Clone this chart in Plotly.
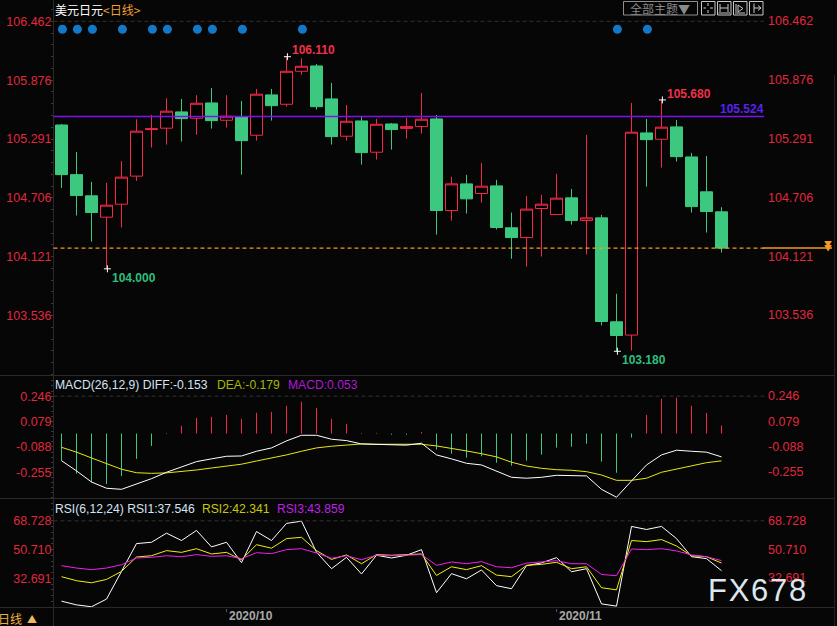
import plotly.graph_objects as go

W, H = 837, 626
# ---------------- data ----------------
opens = [105.431,104.937,104.726,104.514,104.643,104.922,105.385,105.399,105.561,105.498,105.650,105.478,105.514,105.329,105.730,105.637,105.965,106.018,105.690,105.319,105.471,105.160,105.441,105.397,105.415,105.491,104.580,104.845,104.749,104.825,104.408,104.311,104.600,104.540,104.706,104.480,104.507,103.473,103.341,105.352,105.289,105.412,105.113,104.766,104.567]
closes = [104.937,104.729,104.560,104.633,104.912,105.369,105.393,105.568,105.494,105.647,105.474,105.518,105.275,105.737,105.623,105.965,106.015,105.613,105.315,105.468,105.156,105.438,105.385,105.414,105.488,104.580,104.845,104.696,104.822,104.411,104.311,104.594,104.643,104.703,104.480,104.507,103.476,103.337,105.359,105.285,105.409,105.116,104.619,104.570,104.206]
highs = [105.441,105.163,104.865,104.855,105.071,105.488,105.531,105.697,105.690,105.727,105.799,105.727,105.670,105.789,105.789,106.110,106.094,106.038,105.849,105.630,105.514,105.491,105.451,105.501,105.750,105.531,104.915,104.935,105.054,104.885,104.560,104.726,104.736,104.944,104.795,105.332,104.537,103.752,105.650,105.491,105.680,105.481,105.153,105.123,104.613]
lows = [104.805,104.530,104.271,104.000,104.411,104.875,105.206,105.236,105.266,105.335,105.395,105.405,104.937,105.275,105.474,105.613,105.931,105.584,105.236,105.275,105.037,105.087,105.186,105.295,105.345,104.341,104.480,104.550,104.659,104.391,104.100,104.023,104.122,104.540,104.440,104.142,103.437,103.180,103.188,104.818,105.007,105.067,104.560,104.361,104.162]

macd_hist = [-.178,-.263,-.320,-.331,-.278,-.166,-.081,.005,.051,.103,.110,.123,.097,.136,.143,.182,.209,.169,.097,.064,.005,.005,-.007,-.007,.011,-.105,-.132,-.158,-.149,-.191,-.211,-.178,-.138,-.092,-.086,-.066,-.184,-.257,-.026,.123,.228,.235,.182,.136,.053]
diff = [-.178,-.245,-.318,-.359,-.366,-.333,-.296,-.254,-.217,-.184,-.166,-.149,-.147,-.116,-.094,-.048,-.011,-.011,-.037,-.046,-.068,-.070,-.076,-.076,-.063,-.140,-.166,-.195,-.206,-.245,-.287,-.293,-.287,-.274,-.276,-.278,-.366,-.418,-.311,-.206,-.140,-.109,-.116,-.122,-.153]
dea = [-.090,-.122,-.160,-.199,-.234,-.257,-.261,-.258,-.250,-.239,-.226,-.213,-.201,-.180,-.162,-.140,-.116,-.094,-.083,-.076,-.068,-.070,-.070,-.070,-.070,-.081,-.096,-.114,-.132,-.153,-.188,-.213,-.228,-.237,-.241,-.250,-.272,-.307,-.307,-.293,-.254,-.234,-.213,-.191,-.179]

rsi1 = [18.5,16.2,15.0,19.8,37.1,54.5,55.3,61.0,56.4,62.7,52.4,55.3,42.6,62.0,56.4,67.1,68.5,49.1,38.8,45.9,35.5,47.2,45.5,47.2,50.7,23.8,35.7,32.5,38.0,28.2,26.3,40.7,42.4,45.7,36.9,38.8,16.8,15.4,65.2,63.3,65.2,57.6,46.3,45.1,37.546]
rsi2 = [33.8,31.3,30.0,32.1,37.1,46.1,46.9,50.1,49.0,51.3,48.0,49.0,44.4,53.8,51.6,57.6,58.4,50.1,44.6,47.4,41.9,47.6,47.2,47.6,48.0,34.6,40.0,38.2,40.7,34.8,33.8,40.9,41.5,42.8,38.8,40.0,26.9,25.6,56.4,55.7,57.0,53.0,46.9,46.3,42.341]
rsi3 = [40.7,39.2,38.2,39.2,41.3,45.5,45.9,46.9,46.3,47.6,46.5,46.9,45.1,48.8,48.2,50.7,51.3,48.6,45.3,46.9,44.4,47.2,46.9,47.2,47.6,40.9,43.0,41.9,43.2,40.0,39.4,42.3,43.2,43.8,41.9,41.9,35.2,34.4,51.1,50.7,51.3,49.9,47.4,46.3,43.859]

news_dots = [0,1,2,4,6,7,9,10,12,16,37,39]
NEWS_LEVEL = 106.383
price_ticks = [106.462,105.876,105.291,104.706,104.121,103.536]
macd_ticks = [0.246,0.079,-0.088,-0.255]
rsi_ticks = [68.728,50.710,32.691]
LAST_PRICE = 104.206
PURPLE_LEVEL = 105.516
extremes = [(15,106.110,'h'),(40,105.680,'h'),(3,104.000,'l'),(37,103.180,'l')]
date_ticks = [11,33]
date_labels = ['2020/10','2020/11']

# ---------------- style ----------------
BG = '#060606'; RED = '#F5284A'; GREEN = '#3CC97F'; LBL = '#E0283F'
FONT = 'Liberation Sans'; CJK = 'Noto Sans CJK SC'
GRID = '#2A2A2A'
TS = 12.5
LEG = 12.15
x0, x1 = 53.5, 764
xr = [(x0-61.5)/15, (x1-61.5)/15]
Y1, Y2, Y3 = 375.5, 498.5, 607.5
MARK_NUDGE = 0.06
px = lambda p: p/W
py = lambda p: 1-p/H
ids = list(range(len(opens)))

fig = go.Figure()
fig.add_trace(go.Candlestick(x=ids, open=opens, high=highs, low=lows, close=closes, xaxis='x', yaxis='y',
    whiskerwidth=0, showlegend=False,
    increasing=dict(line=dict(color=RED, width=1), fillcolor='#000000'),
    decreasing=dict(line=dict(color=GREEN, width=1), fillcolor=GREEN)))
fig.add_trace(go.Scatter(x=[d+MARK_NUDGE for d in news_dots], y=[NEWS_LEVEL]*len(news_dots), mode='markers', xaxis='x', yaxis='y',
    marker=dict(size=9, color='#1278C8'), showlegend=False))
fig.add_trace(go.Scatter(x=[e[0]+MARK_NUDGE for e in extremes], y=[e[1] for e in extremes], mode='markers', xaxis='x', yaxis='y',
    marker=dict(symbol='cross-thin', size=5, line=dict(color='#FFFFFF', width=1)), showlegend=False))
def stems(pred):
    xs, ys = [], []
    for i, v in zip(ids, macd_hist):
        if pred(v):
            xs += [i, i, None]; ys += [0, v, None]
    return xs, ys
for pred, col in ((lambda v: v > 0, RED), (lambda v: v <= 0, GREEN)):
    sx, sy = stems(pred)
    fig.add_trace(go.Scatter(x=sx, y=sy, mode='lines', line=dict(color=col, width=1), xaxis='x2', yaxis='y2', showlegend=False))
fig.add_trace(go.Scatter(x=ids, y=dea, mode='lines', line=dict(color='#E8E810', width=1), xaxis='x2', yaxis='y2', showlegend=False))
fig.add_trace(go.Scatter(x=ids, y=diff, mode='lines', line=dict(color='#FFFFFF', width=1), xaxis='x2', yaxis='y2', showlegend=False))
fig.add_trace(go.Scatter(x=ids, y=rsi1, mode='lines', line=dict(color='#FFFFFF', width=1), xaxis='x3', yaxis='y3', showlegend=False))
fig.add_trace(go.Scatter(x=ids, y=rsi2, mode='lines', line=dict(color='#F0F010', width=1), xaxis='x3', yaxis='y3', showlegend=False))
fig.add_trace(go.Scatter(x=ids, y=rsi3, mode='lines', line=dict(color='#F020F0', width=1), xaxis='x3', yaxis='y3', showlegend=False))

def yax(dom, rng, ticks, dt, t0, fmt):
    return dict(domain=dom, range=rng, tickmode='array', tickvals=ticks, ticktext=[fmt % t for t in ticks],
        showgrid=False, zeroline=False, showline=False, ticks='', mirror='ticks',
        tickfont=dict(family=FONT, size=TS, color=LBL), ticklabelstandoff=1,
        minor=dict(ticks='outside', ticklen=2, tickcolor='#3A3A3A', tickmode='linear', tick0=t0, dtick=dt, showgrid=False))

xbase = dict(domain=[px(x0), px(x1)], range=xr, showgrid=False, zeroline=False, showticklabels=False, ticks='', showline=False)
layout = dict(width=W, height=H, margin=dict(l=0, r=0, t=0, b=0), autosize=False, paper_bgcolor=BG, plot_bgcolor=BG,
    showlegend=False, boxgap=0.2, boxgroupgap=0, hovermode=False,
    xaxis=dict(xbase, anchor='y', rangeslider=dict(visible=False)),
    xaxis2=dict(xbase, anchor='y2'),
    xaxis3=dict(xbase, anchor='y3', tickmode='array', tickvals=date_ticks, ticks='outside', ticklen=3, tickcolor='#555555'),
    yaxis=yax([py(Y1), 1], [102.939, 106.674], price_ticks, 0.117, 103.536, '%.3f'),
    yaxis2=yax([py(Y2), py(Y1)], [-0.4263, 0.3816], macd_ticks, 0.0334, 0.079, '%.3f'),
    yaxis3=yax([py(Y3), py(Y2)], [14.55, 82.66], rsi_ticks, 3.6, 32.691, '%.3f'),
)

shapes = []
def pline(xa, ya, xb, yb, color, width=1, dash='solid'):
    shapes.append(dict(type='line', xref='paper', yref='paper', x0=px(xa), x1=px(xb), y0=py(ya), y1=py(yb),
                       line=dict(color=color, width=width, dash=dash)))
def dline(ref, val, color, width=1, dash='solid', xa=x0, xb=x1):
    shapes.append(dict(type='line', xref='paper', yref=ref, x0=px(xa), x1=px(xb), y0=val, y1=val,
                       line=dict(color=color, width=width, dash=dash)))
# frame lines
pline(x0, 0, x0, H, GRID)
pline(0, Y1, 834, Y1, GRID); pline(0, Y2, 834, Y2, GRID); pline(0, Y3, 834, Y3, GRID)
pline(834.5, 75, 834.5, H, '#222222')
# top-of-panel dashed lines
dline('y', price_ticks[0], '#333333', dash='4px,3px')
dline('y2', macd_ticks[0], '#333333', dash='4px,3px')
dline('y3', rsi_ticks[0], '#333333', dash='4px,3px')
# purple / last price
dline('y', PURPLE_LEVEL, '#8010F0', width=1.5)
dline('y', LAST_PRICE, '#F59A23', width=1.2, dash='4px,3px')
dline('y', LAST_PRICE, '#F59A23', width=1.5, xa=763, xb=832)
# buttons
for a, b in [(623.5, 697.5), (701.5, 715), (717.5, 731), (733.5, 747), (749.5, 763)]:
    shapes.append(dict(type='rect', xref='paper', yref='paper', x0=px(a), x1=px(b), y0=py(1.5), y1=py(15),
                       line=dict(color='#8E8E8E' if a < 700 else '#C8C8C8', width=1), fillcolor='rgba(0,0,0,0)'))
IC = '#C8C8C8'
pline(708, 3, 708, 6, IC); pline(708, 10, 708, 13, IC); pline(703.5, 8, 706, 8, IC); pline(710, 8, 713, 8, IC)
pline(720, 4, 720, 12, IC); pline(728, 4, 728, 12, IC); pline(720, 8, 728, 8, IC); pline(718.5, 13, 730, 13, IC)
pline(736, 4, 736, 12, IC); pline(738, 5, 743, 8.5, IC); pline(738, 12, 743, 8.5, IC); pline(738, 5, 738, 12, IC); pline(735, 13, 745, 13, IC)
pline(754, 3.5, 754, 13, IC); pline(754, 8, 761, 8, IC); pline(758, 5.5, 761, 8, IC); pline(758, 10.5, 761, 8, IC)
layout['shapes'] = shapes

ann = []
def pt(x, y, text, color, size=LEG, anchor='left', family=FONT, bold=False):
    if bold: text = '<b>%s</b>' % text
    ann.append(dict(xref='paper', yref='paper', x=px(x), y=py(y), text=text, showarrow=False, xanchor=anchor, yanchor='middle',
                    align=anchor, font=dict(family=family, size=size, color=color), borderpad=0, borderwidth=0))
# right-hand axis labels
RIGHT = 766.8
for ref, ts in (('y', price_ticks), ('y2', macd_ticks), ('y3', rsi_ticks)):
    for t in ts:
        ann.append(dict(xref='paper', yref=ref, x=px(RIGHT), y=t, text='%.3f' % t, showarrow=False, xanchor='left', yanchor='middle',
                        font=dict(family=FONT, size=TS, color=LBL), borderpad=0))
# extremes
for i, v, k in extremes:
    col = '#F0304A' if k == 'h' else '#2FBF7C'
    ann.append(dict(xref='x', yref='y', x=i, y=v, text='<b>%.3f</b>' % v, showarrow=False, xanchor='left', yanchor='middle',
                    xshift=4, yshift=6.3 if k == 'h' else -8.8, font=dict(family=FONT, size=12, color=col), borderpad=0))
pt(764, 108.7, '105.524', '#5A22F0', size=12, anchor='right', bold=True)
# titles
pt(55, 9.5, '美元日元<span style="color:#F0A030">&lt;日线&gt;</span>', '#FFFFFF', size=12, family=CJK)
pt(660, 8.5, '全部主题▼', '#8A8A8A', size=12, anchor='center', family=CJK)
# indicator legends
pt(55, 384.5, 'MACD(26,12,9) DIFF:-0.153', '#D5E4F5')
pt(217, 384.5, 'DEA:-0.179', '#A8B800')
pt(288, 384.5, 'MACD:0.053', '#B018D8')
pt(55, 508.7, 'RSI(6,12,24) RSI1:37.546', '#D5E4F5')
pt(202, 508.7, 'RSI2:42.341', '#C8C810')
pt(277, 508.7, 'RSI3:43.859', '#C020E8')
# date labels
for t, lab in zip(date_ticks, date_labels):
    ann.append(dict(xref='x3', yref='paper', x=t, y=py(615.7), text='<b>%s</b>' % lab, showarrow=False, xanchor='left', yanchor='middle',
                    xshift=1.5, font=dict(family=FONT, size=12, color='#A8A8A8'), borderpad=0))
# bottom-left period tab
pt(22, 618, '日线', '#F0B040', anchor='right', family=CJK, size=12)
pt(32, 618, '▲', '#F0B860', anchor='center', family=CJK, size=10)
# last-price arrows
pt(828, 243, '▼', '#F59A23', anchor='center', family=CJK, size=8)
pt(828, 247, '▼', '#F59A23', anchor='center', family=CJK, size=8)
# watermark
pt(708, 590, '<span style="letter-spacing:1.7px">FX678</span>', '#DCE6EF', size=31)
layout['annotations'] = ann

fig.update_layout(**layout)
fig.write_html('out.html', config=dict(displayModeBar=False),
               post_script="document.body.style.margin='0';document.body.style.background='%s';document.documentElement.style.overflow='hidden';" % BG)
